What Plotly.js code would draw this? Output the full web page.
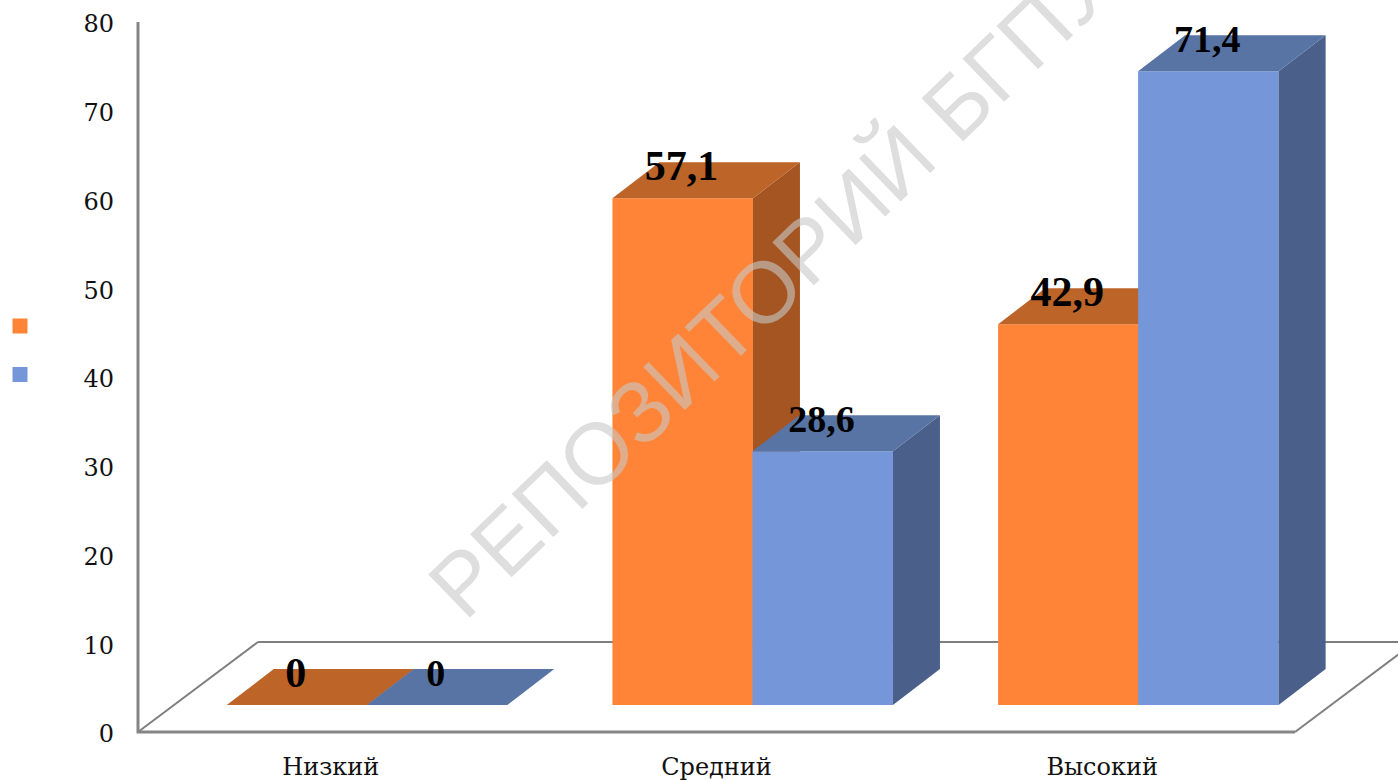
<!DOCTYPE html>
<html>
<head>
<meta charset="utf-8">
<script src="https://cdn.plot.ly/plotly-3.0.1.min.js"></script>
<style>html,body{margin:0;padding:0;background:#fff;overflow:hidden}</style>
</head>
<body>
<div id="chart" style="width:1398px;height:780px"></div>
<script>
const categories = ['Низкий', 'Средний', 'Высокий'];
const seriesOrange = [0, 57.1, 42.9];
const seriesBlue = [0, 28.6, 71.4];
const yTicks = [0, 10, 20, 30, 40, 50, 60, 70, 80];

// 3D-look geometry, in axis units
const BAR_W = 0.3643, LIFT = 3.04, DX = 0.1219, DY = 4.056;
const FLOOR_DX = 0.311, FLOOR_DY = 10.14, LABEL_DROP = 0.8;
const X_MIN = -0.01037, X_MAX = 3.267, Y_MIN = -0.4507, Y_MAX = 80.4507, Y_TOP = 80;
const OFF_ORANGE = 0.4123, OFF_BLUE = 0.7753;
const SERIF = '"DejaVu Serif", serif';
const LABEL = '"Liberation Serif", serif';

function poly(rows) {
  const xs = [], ys = [];
  rows.forEach(r => { r.forEach(p => { xs.push(p[0]); ys.push(p[1]); }); xs.push(null); ys.push(null); });
  return {x: xs, y: ys};
}
function series(values, off, cols, xa, ya, labelSize) {
  const xc = values.map((_, i) => i + off);
  const top = poly(values.map((v, i) => {
    const l = xc[i] - BAR_W / 2, r = xc[i] + BAR_W / 2, h = v + LIFT;
    return [[l, h], [r, h], [r + DX, h + DY], [l + DX, h + DY], [l, h]];
  }));
  const side = poly(values.map((v, i) => {
    const r = xc[i] + BAR_W / 2, h = v + LIFT;
    return [[r, LIFT], [r + DX, LIFT + DY], [r + DX, h + DY], [r, h], [r, LIFT]];
  }));
  const face = (d, c) => ({type: 'scatter', mode: 'none', x: d.x, y: d.y, fill: 'toself', fillcolor: c,
    xaxis: xa, yaxis: ya, showlegend: false, hoverinfo: 'skip'});
  return [
    {type: 'bar', x: xc, y: values, base: LIFT, width: BAR_W, marker: {color: cols[0], line: {width: 0}},
      xaxis: xa, yaxis: ya, showlegend: false, hoverinfo: 'skip'},
    face(side, cols[2]),
    face(top, cols[1]),
    {type: 'scatter', mode: 'text', x: xc.map(x => x - 0.003), y: values.map(v => v + LIFT + DY - LABEL_DROP),
      text: values.map(v => String(v).replace('.', ',')), textposition: 'middle center',
      textfont: {family: LABEL, size: labelSize, color: '#000', weight: 700},
      xaxis: xa, yaxis: ya, showlegend: false, hoverinfo: 'skip', cliponaxis: false}
  ];
}
const ORANGE = ['#FF8437', '#BD6429', '#A45521'];
const BLUE = ['#7596D8', '#5874A5', '#4A608A'];

const legendKeys = [ORANGE[0], BLUE[0]].map(c => ({
  type: 'scatter', mode: 'markers', x: [null], y: [null], name: '\u00a0',
  marker: {symbol: 'square', size: 15, color: c}, hoverinfo: 'skip'
}));

// Front frame: the value-axis line and the floor's front edge
const frame = {
  type: 'scatter', mode: 'lines', x: [0, 0, 3], y: [Y_TOP, 0, 0],
  line: {color: '#858585', width: 3}, showlegend: false, hoverinfo: 'skip'
};

const data = [
  frame,
  ...series(seriesOrange, OFF_ORANGE, ORANGE, 'x', 'y', 42),
  ...series(seriesBlue, OFF_BLUE, BLUE, 'x2', 'y2', 38),
  ...legendKeys
];

const floorLine = {color: '#7f7f7f', width: 2};
const layout = {
  width: 1398, height: 780, autosize: false,
  margin: {l: 134, r: 0, t: 18, b: 44, pad: 0},
  paper_bgcolor: '#fff', plot_bgcolor: 'rgba(0,0,0,0)',
  barmode: 'overlay',
  xaxis: {range: [X_MIN, X_MAX], showgrid: false, zeroline: false, showline: false, ticks: '',
    tickmode: 'array', tickvals: categories.map((_, i) => i + 0.5), ticktext: categories,
    ticklabelstandoff: 14, tickfont: {family: SERIF, size: 24, color: '#111'}},
  yaxis: {range: [Y_MIN, Y_MAX], showgrid: false, zeroline: false, showline: false,
    ticks: '', tickmode: 'array', tickvals: yTicks, ticktext: yTicks.map(String),
    ticklabelstandoff: 19, ticklabelshift: 2, tickfont: {family: SERIF, size: 24, color: '#111'}},
  xaxis2: {range: [X_MIN, X_MAX], overlaying: 'x', visible: false},
  yaxis2: {range: [Y_MIN, Y_MAX], overlaying: 'y', visible: false},
  legend: {xref: 'container', yref: 'container', x: 0, y: 0.6195, xanchor: 'left', yanchor: 'top',
    font: {size: 35}, bgcolor: 'rgba(0,0,0,0)', borderwidth: 0, itemwidth: 30},
  shapes: [
    {type: 'line', layer: 'below', xref: 'x', yref: 'y', x0: 0, y0: 0, x1: FLOOR_DX, y1: FLOOR_DY, line: floorLine},
    {type: 'line', layer: 'below', xref: 'x', yref: 'y', x0: FLOOR_DX, y0: FLOOR_DY, x1: X_MAX, y1: FLOOR_DY, line: floorLine},
    {type: 'line', layer: 'below', xref: 'x', yref: 'y', x0: 3, y0: 0, x1: 3 + FLOOR_DX, y1: FLOOR_DY, line: floorLine}
  ],
  annotations: [{
    text: 'РЕПОЗИТОРИЙ БГПУ', xref: 'paper', yref: 'paper', x: 0.503, y: 0.628, xanchor: 'center', yanchor: 'middle',
    showarrow: false, textangle: -44,
    font: {family: '"Liberation Sans", sans-serif', size: 87, color: 'rgba(200,200,200,0.6)'}
  }]
};
Plotly.newPlot('chart', data, layout, {displayModeBar: false, responsive: false});
</script>
</body>
</html>
